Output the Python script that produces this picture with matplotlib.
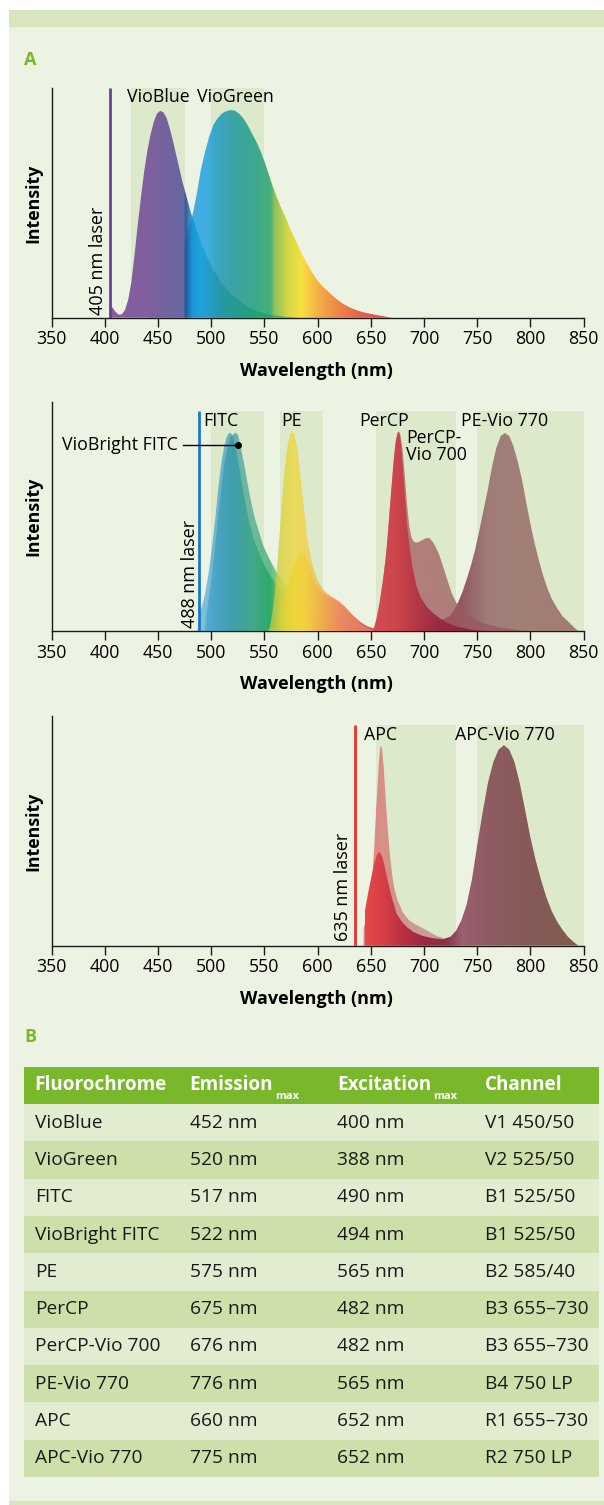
import numpy as np
import matplotlib
matplotlib.use('Agg')
import matplotlib.pyplot as plt
from matplotlib.patches import Polygon, Rectangle
from matplotlib.colors import to_rgb

plt.rcParams['font.family'] = ['Open Sans', 'DejaVu Sans']

# ---- spectra (wavelength nm, relative intensity) ----
xticks = [350, 400, 450, 500, 550, 600, 650, 700, 750, 800, 850]

vioblue_wl = [405, 407, 410, 413, 416, 419, 422, 425, 428, 431, 434, 437, 440, 443, 446, 449,
              452, 455, 458, 461, 464, 467, 470, 473, 476, 480, 485, 490, 496, 502, 510, 518,
              526, 534, 545, 556, 570, 582]
vioblue_i = [0.05, 0.045, 0.025, 0.013, 0.015, 0.035, 0.08, 0.16, 0.28, 0.41, 0.53, 0.64, 0.73,
             0.80, 0.855, 0.89, 0.902, 0.895, 0.87, 0.825, 0.77, 0.71, 0.65, 0.59, 0.54, 0.47,
             0.40, 0.33, 0.265, 0.207, 0.15, 0.107, 0.075, 0.047, 0.025, 0.012, 0.004, 0.0]

viogreen_wl = [440, 445, 450, 455, 460, 465, 470, 474, 478, 482, 486, 490, 494, 498, 502, 506,
               510, 514, 518, 522, 526, 530, 534, 538, 542, 546, 550, 554, 558, 562, 566, 570,
               574, 578, 582, 586, 590, 595, 600, 606, 612, 618, 624, 630, 638, 646, 655, 663,
               670]
viogreen_i = [0.0, 0.01, 0.03, 0.06, 0.10, 0.16, 0.24, 0.31, 0.38, 0.44, 0.53, 0.64, 0.72, 0.79,
              0.84, 0.87, 0.89, 0.90, 0.905, 0.903, 0.89, 0.87, 0.84, 0.805, 0.77, 0.73, 0.68,
              0.625, 0.57, 0.52, 0.475, 0.435, 0.39, 0.35, 0.31, 0.27, 0.235, 0.195, 0.16, 0.13,
              0.105, 0.08, 0.06, 0.045, 0.03, 0.02, 0.012, 0.005, 0.0]

fitc_wl = [487, 488.5, 490, 492, 494, 496, 498, 500, 502, 504, 506, 508, 510, 512, 514, 516,
           518, 520, 522, 524, 526, 528, 530, 533, 536, 540, 545, 549, 555, 561, 568, 577, 588,
           599, 612, 624, 635, 646]
fitc_i = [0.0, 0.06, 0.09, 0.12, 0.16, 0.21, 0.27, 0.34, 0.42, 0.50, 0.60, 0.68, 0.75, 0.80,
          0.84, 0.86, 0.865, 0.85, 0.82, 0.775, 0.72, 0.665, 0.61, 0.535, 0.47, 0.40, 0.34,
          0.295, 0.245, 0.20, 0.16, 0.12, 0.085, 0.06, 0.04, 0.025, 0.012, 0.0]

viobright_wl = [494, 495, 497, 500, 503, 506, 509, 512, 515, 518, 520, 522.5, 525, 527, 529,
                532, 535, 538, 541, 545, 549, 555, 561, 568, 577, 588, 599, 612, 624, 635, 646,
                655]
viobright_i = [0.0, 0.06, 0.12, 0.22, 0.34, 0.48, 0.61, 0.72, 0.80, 0.845, 0.855, 0.865, 0.855,
               0.82, 0.77, 0.70, 0.62, 0.55, 0.49, 0.43, 0.37, 0.31, 0.26, 0.21, 0.155, 0.11,
               0.08, 0.055, 0.036, 0.018, 0.005, 0.0]

pe_wl = [554, 556, 558, 560, 562, 564, 566, 568, 570, 572, 574, 576, 578, 580, 582, 584, 586,
         588, 590, 593, 596, 600, 605, 610, 615, 620, 625, 630, 635, 640, 645, 650, 655]
pe_i = [0.0, 0.04, 0.10, 0.18, 0.29, 0.41, 0.54, 0.66, 0.75, 0.815, 0.855, 0.87, 0.86, 0.82,
        0.75, 0.67, 0.58, 0.49, 0.41, 0.33, 0.27, 0.22, 0.18, 0.16, 0.145, 0.13, 0.11, 0.085,
        0.058, 0.035, 0.018, 0.007, 0.0]

pevio770_wl = [553, 557, 561, 565, 569, 573, 577, 581, 585, 588, 591, 594, 597, 600, 605, 610,
               615, 620, 625, 630, 635, 640, 646, 652, 660, 670, 680, 690, 700, 710, 718, 724,
               728, 732, 736, 740, 744, 748, 752, 756, 760, 764, 768, 772, 776, 780, 784, 788,
               792, 796, 800, 804, 808, 812, 816, 820, 825, 830, 837, 841, 845]
pevio770_i = [0.0, 0.02, 0.05, 0.10, 0.16, 0.22, 0.28, 0.32, 0.346, 0.335, 0.30, 0.255, 0.215,
              0.19, 0.165, 0.15, 0.14, 0.125, 0.105, 0.08, 0.06, 0.04, 0.022, 0.012, 0.008,
              0.01, 0.013, 0.02, 0.028, 0.04, 0.05, 0.065, 0.09, 0.125, 0.17, 0.225, 0.285,
              0.355, 0.44, 0.53, 0.62, 0.72, 0.80, 0.85, 0.863, 0.85, 0.805, 0.74, 0.66, 0.56,
              0.465, 0.38, 0.305, 0.24, 0.185, 0.14, 0.10, 0.065, 0.034, 0.015, 0.0]

percp_wl = [652, 655, 658, 661, 664, 666, 668, 670, 672, 674, 675.7, 677, 678.5, 680, 682, 684,
            686.7, 689, 693, 697, 702, 708, 715, 722, 730, 745, 760]
percp_i = [0.0, 0.05, 0.12, 0.21, 0.32, 0.42, 0.54, 0.66, 0.77, 0.84, 0.87, 0.855, 0.80, 0.71,
           0.58, 0.46, 0.354, 0.28, 0.193, 0.145, 0.108, 0.08, 0.055, 0.035, 0.02, 0.005, 0.0]

percpvio700_wl = [653, 656, 659, 662, 665, 668, 671, 673, 675, 676.5, 678, 680, 682, 684, 686,
                  688, 690, 693, 696, 699, 702, 705, 708, 711, 714, 718, 722, 726, 730, 735,
                  740, 748, 756, 770, 787, 800]
percpvio700_i = [0.0, 0.06, 0.14, 0.24, 0.37, 0.55, 0.72, 0.82, 0.865, 0.87, 0.85, 0.78, 0.67,
                 0.55, 0.46, 0.41, 0.39, 0.385, 0.39, 0.398, 0.405, 0.405, 0.39, 0.365, 0.335,
                 0.28, 0.22, 0.165, 0.125, 0.10, 0.075, 0.05, 0.034, 0.015, 0.005, 0.0]

apc_wl = [643, 643.3, 646, 649, 651, 653, 655, 656.5, 658, 659.2, 660.5, 662, 664, 666, 668,
          670, 672, 675, 680, 686, 693, 702, 712, 724, 737, 750]
apc_i = [0.0, 0.08, 0.12, 0.20, 0.28, 0.42, 0.60, 0.72, 0.83, 0.874, 0.86, 0.78, 0.63, 0.50,
         0.39, 0.31, 0.25, 0.20, 0.145, 0.11, 0.09, 0.068, 0.042, 0.025, 0.01, 0.0]

apcvio770_wl = [644, 644.5, 647, 650, 653, 655.5, 658, 660.5, 663, 666, 669.5, 674, 679, 684,
                690, 699, 708, 718, 725, 730, 735, 740, 745, 750, 755, 760, 765, 770, 775, 780,
                785, 790, 795, 800, 805, 810, 815, 820, 825, 830, 835, 840, 845]
apcvio770_i = [0.0, 0.155, 0.22, 0.29, 0.355, 0.395, 0.41, 0.39, 0.344, 0.28, 0.213, 0.141,
               0.105, 0.08, 0.06, 0.042, 0.033, 0.028, 0.04, 0.065, 0.11, 0.18, 0.29, 0.44,
               0.58, 0.71, 0.80, 0.855, 0.874, 0.855, 0.80, 0.707, 0.59, 0.47, 0.37, 0.285,
               0.21, 0.15, 0.105, 0.07, 0.04, 0.018, 0.0]

# ---- table ----
fluorochromes = ['VioBlue', 'VioGreen', 'FITC', 'VioBright FITC', 'PE', 'PerCP',
                 'PerCP-Vio 700', 'PE-Vio 770', 'APC', 'APC-Vio 770']
emission_max = ['452 nm', '520 nm', '517 nm', '522 nm', '575 nm', '675 nm', '676 nm',
                '776 nm', '660 nm', '775 nm']
excitation_max = ['400 nm', '388 nm', '490 nm', '494 nm', '565 nm', '482 nm', '482 nm',
                  '565 nm', '652 nm', '652 nm']
channels = ['V1 450/50', 'V2 525/50', 'B1 525/50', 'B1 525/50', 'B2 585/40', 'B3 655\u2013730',
            'B3 655\u2013730', 'B4 750 LP', 'R1 655\u2013730', 'R2 750 LP']


def fill_spectrum(ax, wl, inten, stops, z):
    wl = np.asarray(wl, float)
    inten = np.asarray(inten, float)
    verts = np.column_stack([np.r_[wl[0], wl, wl[-1]], np.r_[0, inten, 0]])
    poly = Polygon(verts, closed=True, fc='none', ec='none', transform=ax.transData)
    ax.add_patch(poly)
    xs = np.linspace(wl.min(), wl.max(), 800)
    sw = [s[0] for s in stops]
    rgb = np.array([to_rgb(s[1]) for s in stops])
    img = np.zeros((2, len(xs), 4))
    for k in range(3):
        img[:, :, k] = np.interp(xs, sw, rgb[:, k])
    img[:, :, 3] = np.interp(xs, sw, [s[2] for s in stops])
    im = ax.imshow(img, extent=[wl.min(), wl.max(), 0, inten.max() + 0.01], aspect='auto',
                   origin='lower', zorder=z, interpolation='bilinear')
    im.set_clip_path(poly)


W, H = 604, 1505
fig = plt.figure(figsize=(W / 100, H / 100), dpi=100)
fig.patch.set_facecolor('white')

bg = fig.add_axes([0, 0, 1, 1], zorder=0)
bg.set_xlim(0, W)
bg.set_ylim(H, 0)
bg.axis('off')
bg.add_patch(Rectangle((8.9, 10), W - 8.9, H - 10, fc='#edf3e3', ec='none'))
bg.add_patch(Rectangle((8.9, 10), W - 8.9, 16.7, fc='#d7e6bf', ec='none'))
bg.add_patch(Rectangle((8.9, 1500.7), W - 8.9, 5, fc='#d7e6bf', ec='none'))
bg.text(24, 60, 'A', color='#78b62a', fontsize=13, fontweight='bold', ha='left', va='center')
bg.text(24, 1037, 'B', color='#78b62a', fontsize=13, fontweight='bold', ha='left', va='center')

band_col = '#dde9cb'
lab = 12.8
axis_bottoms = [317.7, 631.0, 945.7]
axes = []
for yb in axis_bottoms:
    ax = fig.add_axes([51.7 / W, 1 - yb / H, 532 / W, 229.4 / H], zorder=1)
    ax.set_facecolor('none')
    for s in ['top', 'right']:
        ax.spines[s].set_visible(False)
    for s in ['left', 'bottom']:
        ax.spines[s].set_linewidth(1.0)
        ax.spines[s].set_color('#1a1a1a')
    ax.set_yticks([])
    ax.set_xticks(xticks)
    ax.tick_params(axis='x', length=6.5, width=1.0, labelsize=12.8, pad=2.5, color='#1a1a1a')
    axes.append(ax)
    bg.text(33.3, yb - 114.7, 'Intensity', rotation=90, fontsize=12.8, fontweight='bold',
            ha='center', va='center')
    bg.text(316.7, yb + 53, 'Wavelength (nm)', fontsize=13, fontweight='bold',
            ha='center', va='center')

# ---- panel 1: violet laser ----
ax = axes[0]
for lo, hi in [(425, 475), (500, 550)]:
    ax.axvspan(lo, hi, ymin=0, ymax=1.0, color=band_col, zorder=0.5, lw=0)
fill_spectrum(ax, viogreen_wl, viogreen_i,
              [(440, '#48aee0', 1), (498, '#40ace0', 1), (505, '#3aa6c4', 1), (520, '#3aa3a6', 1),
               (540, '#3da890', 1), (556, '#45b078', 1), (560, '#90c25c', 1), (572, '#d0d848', 1),
               (585, '#f8e040', 1), (598, '#f4b844', 1), (615, '#ee9048', 1), (635, '#e86a4c', 1),
               (655, '#e0504c', 1), (670, '#dd4848', 1)], 2)
fill_spectrum(ax, vioblue_wl, vioblue_i,
              [(405, '#8a5ca0', 1), (440, '#80609e', 1), (470, '#6a66a0', 1), (474.5, '#6868a0', 1),
               (475.5, '#1a4a90', 0.9), (482, '#1090d0', 0.8), (490, '#10a0dc', 0.7),
               (510, '#1a9098', 0.6), (545, '#10a060', 0.6), (582, '#10a060', 0.6)], 3)
ax.plot([405, 405], [0, 1.0], color='#6b3f98', lw=2, zorder=8, solid_capstyle='butt')
ax.text(450, 0.962, 'VioBlue', fontsize=lab, ha='center', va='center', zorder=10)
ax.text(523, 0.962, 'VioGreen', fontsize=lab, ha='center', va='center', zorder=10)
ax.text(393.6, 0.01, '405 nm laser', rotation=90, fontsize=13, ha='center', va='bottom', zorder=10)

# ---- panel 2: blue laser ----
ax = axes[1]
for lo, hi in [(500, 550), (565, 605), (655, 730), (750, 850)]:
    ax.axvspan(lo, hi, ymin=0, ymax=0.96, color=band_col, zorder=0.5, lw=0)
fitc_stops = [(487, '#4aa8dc', 0.65), (500, '#3a9ed0', 0.65), (520, '#2a94a8', 0.65),
              (540, '#2fa080', 0.65), (555, '#12a058', 0.65), (565, '#80b848', 0.65),
              (580, '#e8d030', 0.65), (600, '#f0a840', 0.65), (625, '#ea7a58', 0.65),
              (655, '#e06a60', 0.65)]
fill_spectrum(ax, viobright_wl, viobright_i, fitc_stops, 2)
fill_spectrum(ax, fitc_wl, fitc_i, fitc_stops, 3)
fill_spectrum(ax, pevio770_wl, pevio770_i,
              [(553, '#60b040', 0.9), (570, '#e0d020', 0.9), (585, '#f5d020', 0.9),
               (600, '#f0a030', 0.9), (620, '#e87040', 0.9), (650, '#d84840', 0.9),
               (680, '#a83040', 0.9), (720, '#8a2c40', 0.9), (740, '#8a5058', 0.9),
               (760, '#9a706e', 0.9), (790, '#9a746e', 0.9), (845, '#9a7068', 0.9)], 4)
fill_spectrum(ax, pe_wl, pe_i,
              [(554, '#a8c850', 0.8), (565, '#d8d440', 0.8), (576, '#eed840', 0.8),
               (590, '#f2d048', 0.8), (605, '#f0b050', 0.8), (620, '#ec9068', 0.8),
               (640, '#e88068', 0.8), (655, '#e07060', 0.8)], 5)
fill_spectrum(ax, percpvio700_wl, percpvio700_i,
              [(653, '#b85a60', 0.75), (690, '#a55c60', 0.75), (740, '#9a5a60', 0.75),
               (800, '#905060', 0.75)], 6)
fill_spectrum(ax, percp_wl, percp_i,
              [(652, '#d84850', 0.92), (676, '#cc4048', 0.92), (690, '#b83444', 0.92),
               (710, '#9a2a40', 0.92), (760, '#801e38', 0.92)], 7)
ax.plot([488, 488], [0, 0.96], color='#1a78c8', lw=2, zorder=8, solid_capstyle='butt')
ax.text(508.8, 0.914, 'FITC', fontsize=lab, ha='center', va='center', zorder=10)
ax.text(575.6, 0.914, 'PE', fontsize=lab, ha='center', va='center', zorder=10)
ax.text(662.6, 0.914, 'PerCP', fontsize=lab, ha='center', va='center', zorder=10)
ax.text(683, 0.843, 'PerCP-', fontsize=lab, ha='left', va='center', zorder=10)
ax.text(683, 0.769, 'Vio 700', fontsize=lab, ha='left', va='center', zorder=10)
ax.text(776, 0.914, 'PE-Vio 770', fontsize=lab, ha='center', va='center', zorder=10)
ax.text(468.8, 0.81, 'VioBright FITC', fontsize=lab, ha='right', va='center', zorder=10)
ax.plot([473.4, 524.8], [0.81, 0.81], color='black', lw=1, zorder=10)
ax.plot([524.8], [0.81], 'o', color='black', ms=4, zorder=10)
ax.text(480, 0.013, '488 nm laser', rotation=90, fontsize=13, ha='center', va='bottom', zorder=10)

# ---- panel 3: red laser ----
ax = axes[2]
for lo, hi in [(655, 730), (750, 850)]:
    ax.axvspan(lo, hi, ymin=0, ymax=0.96, color=band_col, zorder=0.5, lw=0)
fill_spectrum(ax, apc_wl, apc_i,
              [(643, '#e07070', 0.85), (660, '#d6807a', 0.85), (700, '#c49090', 0.85),
               (750, '#c09090', 0.85)], 2)
fill_spectrum(ax, apcvio770_wl, apcvio770_i,
              [(644, '#e44848', 1), (660, '#d84048', 1), (680, '#b83040', 1), (700, '#9a2a40', 1),
               (720, '#8a3048', 1), (735, '#9a6070', 1), (760, '#8e5c62', 1), (790, '#885a58', 1),
               (845, '#7e5c50', 1)], 3)
ax.plot([635, 635], [0, 0.96], color='#e8302a', lw=2, zorder=8, solid_capstyle='butt')
ax.text(659, 0.92, 'APC', fontsize=lab, ha='center', va='center', zorder=10)
ax.text(776, 0.92, 'APC-Vio 770', fontsize=lab, ha='center', va='center', zorder=10)
ax.text(624, 0.02, '635 nm laser', rotation=90, fontsize=13, ha='center', va='bottom', zorder=10)

for ax in axes:
    ax.set_xlim(350, 850)
    ax.set_ylim(0, 1)

# ---- table B ----
tx0, tx1 = 23.9, 599
ty0, row_h = 1066.7, 37.3
col_x = [34.7, 189.5, 337.4, 484.6]
bg.add_patch(Rectangle((tx0, ty0), tx1 - tx0, row_h, fc='#79b72b', ec='none'))
renderer = fig.canvas.get_renderer()
yc = ty0 + row_h / 2
for x, head in zip(col_x, ['Fluorochrome', 'Emission', 'Excitation', 'Channel']):
    t = bg.text(x, yc, head, color='white', fontsize=13.6, fontweight='bold',
                ha='left', va='center')
    if head in ('Emission', 'Excitation'):
        bb = t.get_window_extent(renderer=renderer)
        bg.text(bb.x1 + 2, yc + 11, 'max', color='white', fontsize=8, fontweight='bold',
                ha='left', va='center')
for i in range(len(fluorochromes)):
    y0 = ty0 + row_h * (i + 1)
    bg.add_patch(Rectangle((tx0, y0), tx1 - tx0, row_h,
                           fc='#e2ecd1' if i % 2 == 0 else '#cde0aa', ec='none'))
    cells = [fluorochromes[i], emission_max[i], excitation_max[i], channels[i]]
    for x, c in zip(col_x, cells):
        bg.text(x, y0 + row_h / 2, c, color='#1a1a1a', fontsize=13.8, ha='left', va='center')

fig.savefig('out.png', dpi=100, facecolor=fig.get_facecolor())
